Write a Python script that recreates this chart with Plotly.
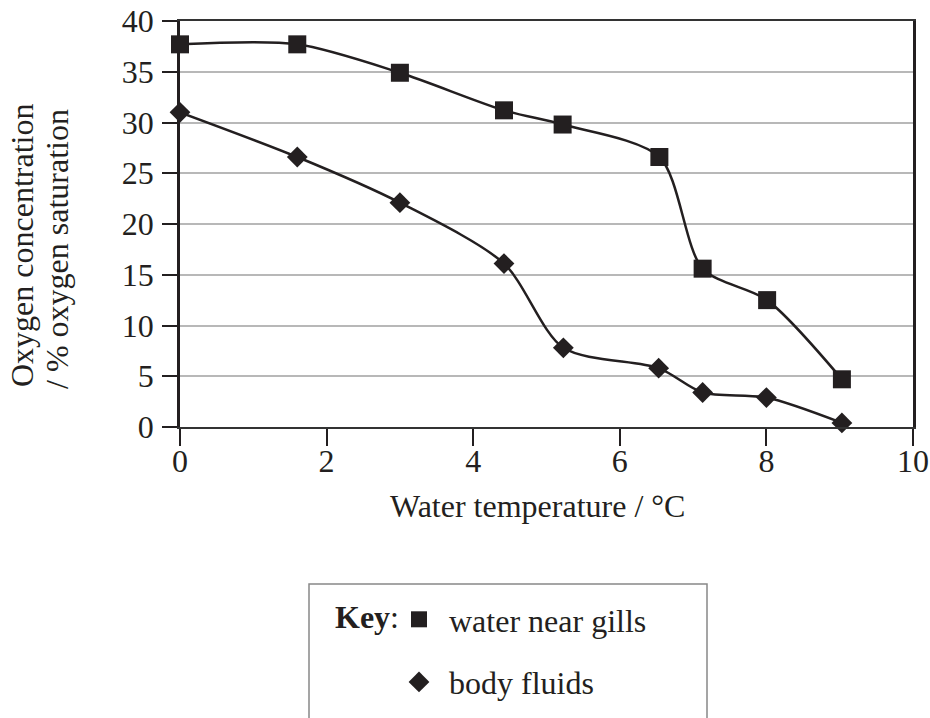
import plotly.graph_objects as go

# data
temp_gills = [0, 1.6, 3.0, 4.42, 5.22, 6.54, 7.13, 8.01, 9.03]
oxy_gills = [37.7, 37.7, 34.9, 31.2, 29.8, 26.6, 15.6, 12.5, 4.7]
temp_body = [0, 1.6, 3.0, 4.42, 5.23, 6.53, 7.13, 8.0, 9.03]
oxy_body = [31.0, 26.6, 22.1, 16.1, 7.8, 5.8, 3.4, 2.9, 0.4]
x_ticks = [0, 2, 4, 6, 8, 10]
y_ticks = [0, 5, 10, 15, 20, 25, 30, 35, 40]

FONT = "Liberation Serif"
INK = "#231f20"
FS = 32

L, R, T, B = 180, 17, 21, 291
W, H = 930, 718
PW, PH = W - L - R, H - T - B


def px(xp):
    return (xp - L) / PW


def py(yp):
    return (H - B - yp) / PH


fig = go.Figure()
fig.add_trace(go.Scatter(x=temp_gills, y=oxy_gills, mode="lines",
                         line=dict(color=INK, width=2.5, shape="spline", smoothing=0.8),
                         showlegend=False, hoverinfo="skip"))
fig.add_trace(go.Scatter(x=temp_body, y=oxy_body, mode="lines",
                         line=dict(color=INK, width=2.5, shape="spline", smoothing=0.8),
                         showlegend=False, hoverinfo="skip"))
fig.add_trace(go.Scatter(x=temp_gills, y=oxy_gills, mode="markers", name="water near gills", legendgroup="a",
                         marker=dict(symbol="square", size=18, color=INK), cliponaxis=False))
fig.add_trace(go.Scatter(x=temp_body, y=oxy_body, mode="markers", name="body fluids", legendgroup="b",
                         marker=dict(symbol="diamond", size=16, color=INK), cliponaxis=False))

fig.update_layout(
    width=W, height=H,
    margin=dict(l=L, r=R, t=T, b=B, pad=0, autoexpand=False),
    paper_bgcolor="white", plot_bgcolor="white",
    font=dict(family=FONT, size=FS, color=INK),
    xaxis=dict(range=[0, 10], tickvals=x_ticks, showgrid=False, zeroline=False,
               showline=True, linecolor="#333333", linewidth=2, mirror=True,
               ticks="outside", ticklen=17, tickwidth=2, tickcolor=INK, ticklabelstandoff=-12),
    yaxis=dict(range=[0, 40], tickvals=y_ticks, showgrid=True, gridcolor="#b8b8b8", gridwidth=1.5,
               zeroline=False, showline=True, linecolor=INK, linewidth=2.5, mirror=True,
               ticks="outside", ticklen=15, tickwidth=1.5, tickcolor=INK, ticklabelstandoff=2),
    legend=dict(x=px(389), y=py(592), xanchor="left", yanchor="top", bgcolor="rgba(0,0,0,0)",
                borderwidth=0, itemwidth=50, tracegroupgap=18, font=dict(family=FONT, size=FS, color=INK)),
    shapes=[dict(type="rect", xref="paper", yref="paper", x0=px(309), x1=px(707), y0=py(584), y1=py(740),
                 line=dict(color="#888888", width=1.5))],
    annotations=[
        dict(text="Oxygen concentration", textangle=-90, xref="paper", yref="paper", x=px(22), y=py(246),
             xanchor="center", yanchor="middle", showarrow=False, font=dict(size=FS)),
        dict(text="/ % oxygen saturation", textangle=-90, xref="paper", yref="paper", x=px(57), y=py(249),
             xanchor="center", yanchor="middle", showarrow=False, font=dict(size=FS)),
        dict(text="Water temperature / °C", xref="paper", yref="paper", x=px(537), y=py(506),
             xanchor="center", yanchor="middle", showarrow=False, font=dict(size=FS)),
        dict(text="<b>Key</b>:", xref="paper", yref="paper", x=px(333), y=py(617), xanchor="left",
             yanchor="middle", showarrow=False, font=dict(size=FS)),
    ],
)

fig.write_html("out.html", config={"displayModeBar": False},
               post_script="document.body.style.margin='0';")
